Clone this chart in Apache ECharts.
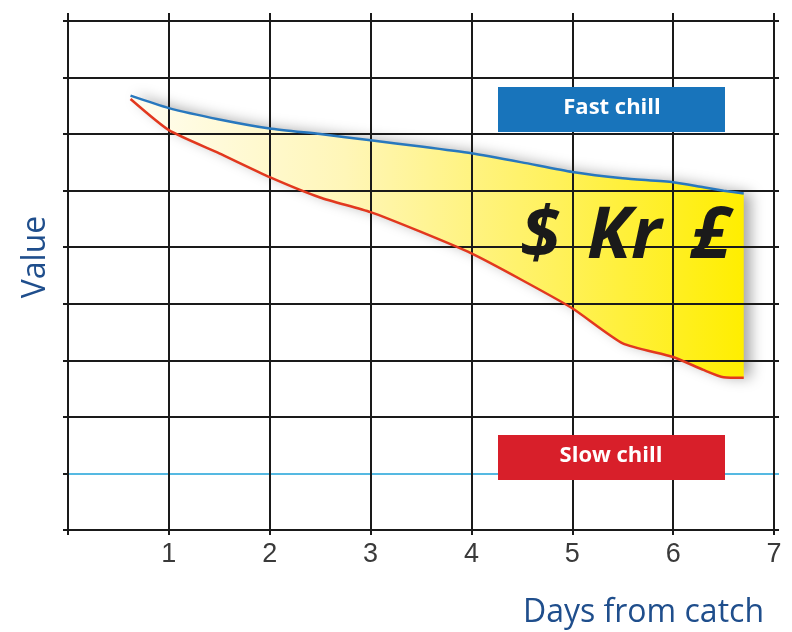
<!DOCTYPE html>
<html>
<head>
<meta charset="utf-8">
<script src="https://cdn.jsdelivr.net/npm/echarts@6/dist/echarts.min.js"></script>
<style>
  html, body { margin: 0; padding: 0; background: #fff; }
  #chart { width: 792px; height: 632px; }
</style>
</head>
<body>
<div id="chart"></div>
<script>
// days from catch (shared x positions of both curves)
var days = [0.62, 1, 1.5, 2, 2.5, 3, 3.5, 4, 4.5, 5, 5.5, 6, 6.3, 6.5, 6.7];
// value of fast chilled catch (blue)
var fastChill = [7.68, 7.46, 7.26, 7.10, 7.00, 6.89, 6.78, 6.66, 6.50, 6.33, 6.22, 6.15, 6.06, 6.00, 5.95];
// value of slow chilled catch (red)
var slowChill = [7.62, 7.07, 6.66, 6.24, 5.88, 5.62, 5.27, 4.89, 4.42, 3.92, 3.30, 3.06, 2.83, 2.70, 2.69];
var xTicks = [1, 2, 3, 4, 5, 6, 7];
var yMax = 9;

var chart = echarts.init(document.getElementById('chart'));

var slowPts = [], fastPts = [];
days.forEach(function (d, i) {
    slowPts.push([d, slowChill[i]]);
    fastPts.push([d, fastChill[i]]);
});

// grid line colours, the y=1 line is light blue
var hColors = [];
for (var k = 0; k <= yMax; k++) hColors.push(k === 1 ? '#55b9e2' : '#1a1a1a');

// yellow band between the two curves
function renderGap(params, api) {
    var pts = [];
    fastPts.forEach(function (p) { pts.push(api.coord(p)); });
    for (var i = slowPts.length - 1; i >= 0; i--) pts.push(api.coord(slowPts[i]));
    return {
        type: 'polygon',
        shape: { points: pts },
        style: {
            fill: new echarts.graphic.LinearGradient(0, 0, 1, 0, [
                { offset: 0, color: '#fffdf0' },
                { offset: 0.35, color: '#fff6b8' },
                { offset: 0.7, color: '#fff15a' },
                { offset: 1, color: '#ffee00' }
            ]),
            shadowColor: 'rgba(0,0,0,0.35)', shadowBlur: 14, shadowOffsetX: 7
        }
    };
}

var option = {
    animation: false,
    backgroundColor: '#ffffff',
    grid: [
        { left: 68, right: 18, top: 21, bottom: 102 },   // data
        { left: 68, right: 18, top: 13, bottom: 102 },   // vertical lines
        { left: 68, right: 13, top: 21, bottom: 102 }    // horizontal lines
    ],
    xAxis: [{
        gridIndex: 0, type: 'value', min: 0, max: 7, interval: 1,
        axisLine: { show: true, lineStyle: { color: '#1a1a1a', width: 2 } },
        axisTick: { show: true, length: 5, lineStyle: { color: '#1a1a1a', width: 2 } },
        axisLabel: {
            color: '#3a3a3a', fontSize: 27, margin: 11, fontFamily: 'Liberation Sans',
            formatter: function (v) { return xTicks.indexOf(v) >= 0 ? String(v) : ''; }
        },
        splitLine: { show: false }
    }, {
        gridIndex: 1, type: 'value', min: 0, max: 7, interval: 1, z: 3,
        axisLine: { show: false }, axisTick: { show: false }, axisLabel: { show: false },
        splitLine: { show: true, lineStyle: { color: '#1a1a1a', width: 2 } }
    }, {
        gridIndex: 2, type: 'value', min: 0, max: 1, show: false
    }],
    yAxis: [{
        gridIndex: 0, type: 'value', min: 0, max: yMax, interval: 1,
        axisLine: { show: true, lineStyle: { color: '#1a1a1a', width: 2 } },
        axisTick: { show: true, length: 5, lineStyle: { color: '#1a1a1a', width: 2 } },
        axisLabel: { show: false },
        splitLine: { show: false }
    }, {
        gridIndex: 1, type: 'value', min: 0, max: yMax, show: false
    }, {
        gridIndex: 2, type: 'value', min: 0, max: yMax, interval: 1, z: 3,
        axisLine: { show: false }, axisTick: { show: false }, axisLabel: { show: false },
        splitLine: { show: true, lineStyle: { color: hColors, width: 2 } }
    }],
    series: [{
        name: 'gap', type: 'custom', data: [fastPts[0]], renderItem: renderGap,
        z: 1, silent: true, clip: false
    }, {
        name: 'Fast chill', type: 'line', data: fastPts, smooth: 0.2,
        symbol: 'none', z: 5, lineStyle: { color: '#2878be', width: 2.5 }
    }, {
        name: 'Slow chill', type: 'line', data: slowPts, smooth: 0.2,
        symbol: 'none', z: 5, lineStyle: { color: '#e2381e', width: 2.5 }
    }],
    graphic: [{
        type: 'rect', z: 100, shape: { x: 498, y: 87, width: 227, height: 45 },
        style: { fill: '#1874bb' }
    }, {
        type: 'text', z: 101, x: 612, y: 108,
        style: { text: 'Fast chill', fill: '#fff', font: 'bold 22px "Open Sans"', align: 'center', verticalAlign: 'middle' }
    }, {
        type: 'rect', z: 100, shape: { x: 498, y: 435, width: 227, height: 45 },
        style: { fill: '#d81f2a' }
    }, {
        type: 'text', z: 101, x: 611, y: 456,
        style: { text: 'Slow chill', fill: '#fff', font: 'bold 22px "Open Sans"', align: 'center', verticalAlign: 'middle' }
    }, {
        type: 'text', z: 101, x: 540, y: 237,
        style: { text: '$', fill: '#1a1a1a', font: 'italic bold 72px "Open Sans"', align: 'center', verticalAlign: 'middle' }
    }, {
        type: 'text', z: 101, x: 624, y: 237,
        style: { text: 'Kr', fill: '#1a1a1a', font: 'italic bold 72px "Open Sans"', align: 'center', verticalAlign: 'middle' }
    }, {
        type: 'text', z: 101, x: 710, y: 237,
        style: { text: '£', fill: '#1a1a1a', font: 'italic bold 72px "Open Sans"', align: 'center', verticalAlign: 'middle' }
    }, {
        type: 'text', z: 101, x: 764, y: 613,
        style: { text: 'Days from catch', fill: '#1f4e8c', font: '32px "Open Sans"', align: 'right', verticalAlign: 'middle' }
    }, {
        type: 'text', z: 101, x: 36, y: 257, rotation: Math.PI / 2,
        style: { text: 'Value', fill: '#1f4e8c', font: '32px "Open Sans"', align: 'center', verticalAlign: 'middle' }
    }]
};

chart.setOption(option);
</script>
</body>
</html>
